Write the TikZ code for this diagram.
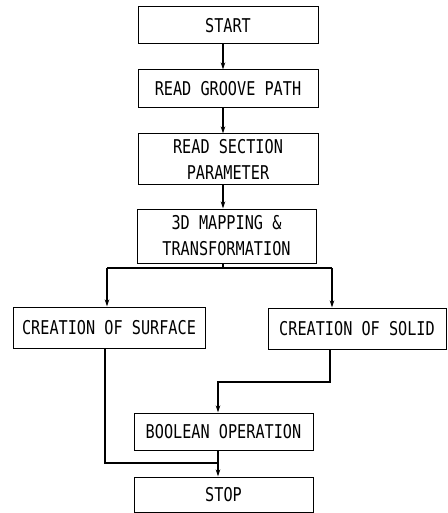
\documentclass[tikz,border=0pt]{standalone}
\usepackage{fontspec}
\newfontfamily\flowfont[FakeStretch=0.8]{DejaVu Sans Mono}
\usetikzlibrary{arrows.meta}
\begin{document}
\begin{tikzpicture}[x=1pt,y=-1pt,
  flowbox/.style={draw,line width=1.0pt,inner sep=0pt,align=center,
    font=\flowfont\fontsize{19}{26}\selectfont},
  flowline/.style={line width=1.3pt},
  flowarrow/.style={line width=1.3pt,-{Stealth[length=7pt,width=4.5pt]}}]
\useasboundingbox (0,0) rectangle (447,513);
\node[flowbox,minimum width=180pt,minimum height=37pt] (start) at (228,25.5) {START};
\node[flowbox,minimum width=180pt,minimum height=38pt] (groove) at (228,89) {READ GROOVE PATH};
\node[flowbox,minimum width=180pt,minimum height=50pt] (section) at (228,159) {READ SECTION\\PARAMETER};
\node[flowbox,minimum width=179pt,minimum height=54pt] (map) at (226.5,236) {3D MAPPING \&\\TRANSFORMATION};
\node[flowbox,minimum width=192pt,minimum height=41pt] (surface) at (109,327.5) {CREATION OF SURFACE};
\node[flowbox,minimum width=178pt,minimum height=41pt] (solid) at (357,328.5) {CREATION OF SOLID};
\node[flowbox,minimum width=179pt,minimum height=37pt] (boolean) at (223.5,431.5) {BOOLEAN OPERATION};
\node[flowbox,minimum width=179pt,minimum height=35pt] (stop) at (223.5,494.5) {STOP};
\draw[flowarrow] ([xshift=-5pt]start.south) -- ([xshift=-5pt]groove.north);
\draw[flowarrow] ([xshift=-5pt]groove.south) -- ([xshift=-5pt]section.north);
\draw[flowarrow] ([xshift=-5pt]section.south) -- ([xshift=-5pt]section.south |- map.north);
\coordinate (bm) at (223,268);
\coordinate (bl) at (107,268);
\coordinate (brr) at (332,268);
\draw[flowline] (bm |- map.south) -- (bm);
\draw[flowline] (bl) -- (brr);
\draw[flowarrow] (bl) -- (bl |- surface.north);
\draw[flowarrow] (brr) -- (brr |- solid.north);
\coordinate (s1) at (330,382);
\coordinate (j1) at (218,382);
\draw[flowarrow] (s1 |- solid.south) -- (s1) -- (j1) -- (j1 |- boolean.north);
\coordinate (s2) at (105,463);
\coordinate (j2) at (218,463);
\draw[flowline] (s2 |- surface.south) -- (s2) -- (j2);
\draw[flowarrow] (j2 |- boolean.south) -- (j2 |- stop.north);
\end{tikzpicture}
\end{document}
